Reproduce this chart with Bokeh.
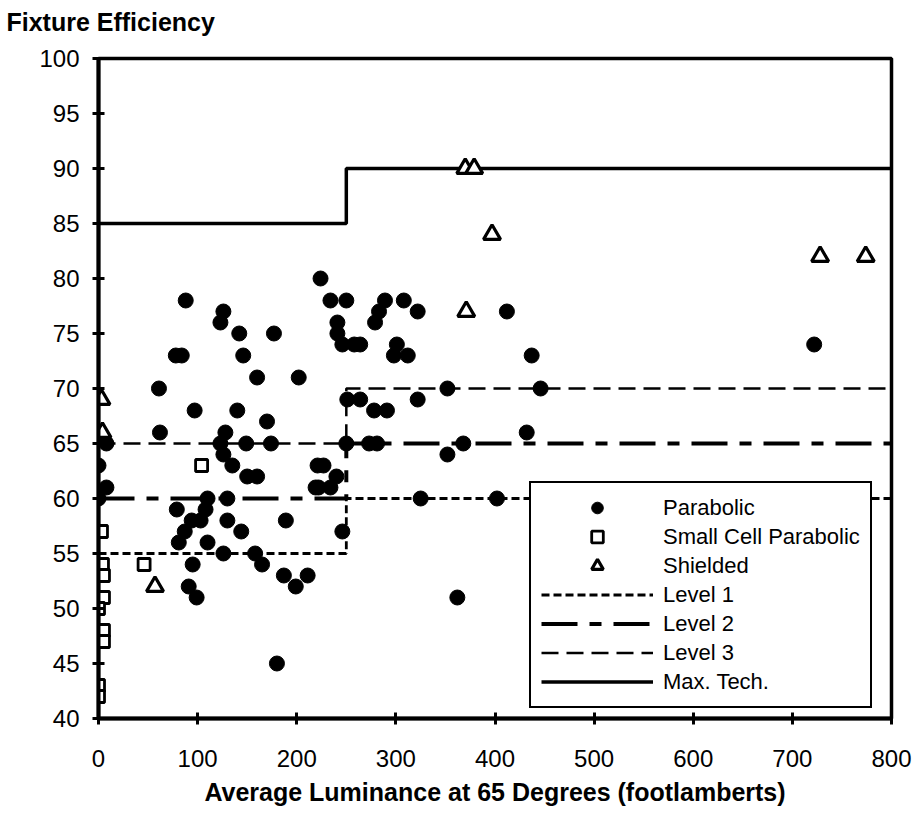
from bokeh.plotting import figure
from bokeh.models import Legend, LegendItem, Title, FixedTicker
from bokeh.embed import file_html
from bokeh.resources import INLINE

# ---- data ----
parabolic_x = [88, 126, 123, 142, 78, 84, 146, 160, 61, 97, 140, 62, 128, 123, 149, 126, 135, 150, 160,
               0, 8, 0, 8, 0, 110, 130, 79, 108, 103, 94, 87, 81, 110, 130, 144, 189, 126, 158, 165,
               95, 91, 99, 187, 199, 211, 180, 219, 224, 234, 250, 289, 308, 322, 283, 279, 241, 241,
               246, 258, 264, 301, 298, 312, 177, 202, 170, 251, 264, 278, 291, 322, 352, 174, 250,
               273, 281, 352, 221, 227, 240, 222, 234, 246, 325, 362, 412, 437, 446, 432, 368, 402, 722]
parabolic_y = [78, 77, 76, 75, 73, 73, 73, 71, 70, 68, 68, 66, 66, 65, 65, 64, 63, 62, 62,
               66, 65, 63, 61, 60, 60, 60, 59, 59, 58, 58, 57, 56, 56, 58, 57, 58, 55, 55, 54,
               54, 52, 51, 53, 52, 53, 45, 61, 80, 78, 78, 78, 78, 77, 77, 76, 76, 75,
               74, 74, 74, 74, 73, 73, 75, 71, 67, 69, 69, 68, 68, 69, 70, 65, 65,
               65, 65, 64, 63, 63, 62, 61, 61, 57, 60, 51, 77, 73, 70, 66, 65, 60, 74]

small_cell_x = [3, 0, 4, 5, 5, 0, 0, 5, 5, 0, 0, 46, 104]
small_cell_y = [57, 54, 54, 53, 51, 50, 48, 48, 47, 43, 42, 54, 63]

shielded_x = [3, 4, 57, 370, 379, 397, 371, 728, 774]
shielded_y = [69, 66, 52, 90, 90, 84, 77, 82, 82]

level_x = [0, 250, 800]
level1_y = [55, 60, 60]
level2_y = [60, 65, 65]
level3_y = [65, 70, 70]
maxtech_y = [85, 90, 90]

x_ticks = [0, 100, 200, 300, 400, 500, 600, 700, 800]
y_ticks = [40, 45, 50, 55, 60, 65, 70, 75, 80, 85, 90, 95, 100]

x_title = "Average Luminance at 65 Degrees (footlamberts)"
y_title = "Fixture Efficiency"

FONT = "Liberation Sans"

p = figure(width=914, height=815, x_range=(0, 800), y_range=(40, 100),
           output_backend="svg", toolbar_location=None,
           min_border_left=98, min_border_right=23, min_border_top=58, min_border_bottom=97)

p.grid.visible = False
p.outline_line_color = "black"
p.outline_line_alpha = 1.0
p.outline_line_width = 3.5
p.background_fill_color = "white"
p.border_fill_color = "white"

for ax in (p.xaxis[0], p.yaxis[0]):
    ax.axis_line_width = 4
    ax.axis_line_color = "black"
    ax.major_tick_in = 6
    ax.major_tick_out = 6
    ax.major_tick_line_width = 3
    ax.minor_tick_line_color = None
    ax.major_label_text_font = FONT
    ax.major_label_text_font_size = "24px"
    ax.major_label_text_color = "black"

p.xaxis.ticker = FixedTicker(ticks=x_ticks)
p.yaxis.ticker = FixedTicker(ticks=y_ticks)
p.xaxis.major_label_standoff = 25
p.yaxis.major_label_standoff = 13

p.xaxis.axis_label = x_title
p.xaxis.axis_label_text_font = FONT
p.xaxis.axis_label_text_font_style = "bold"
p.xaxis.axis_label_text_font_size = "25px"
p.xaxis.axis_label_text_color = "black"
p.xaxis.axis_label_standoff = 8

# spacer (closest to frame), then the real title above it
p.add_layout(Title(text=" ", text_font_size="8px", standoff=6), "above")
p.add_layout(Title(text=y_title, align="left", offset=-92,
                   text_font=FONT, text_font_style="bold", text_font_size="25px",
                   text_color="black", standoff=11), "above")

# level lines
r_l1 = p.step(level_x, level1_y, mode="after", line_color="black", line_width=2.8, line_dash="8 4")
r_l2 = p.step(level_x, level2_y, mode="after", line_color="black", line_width=4, line_dash="36 12 12 12")
r_l3 = p.step(level_x, level3_y, mode="after", line_color="black", line_width=2.5, line_dash="17 8")
r_mt = p.step(level_x, maxtech_y, mode="after", line_color="black", line_width=3.5)

# markers
r_par = p.scatter(parabolic_x, parabolic_y, marker="circle", size=15,
                  fill_color="black", line_color="black")
r_sc = p.scatter(small_cell_x, small_cell_y, marker="square", size=12,
                 fill_color="white", line_color="black", line_width=2.8)
r_sh = p.scatter(shielded_x, shielded_y, marker="triangle", size=17,
                 fill_color="white", line_color="black", line_width=3.2)

legend = Legend(items=[
    LegendItem(label="Parabolic", renderers=[r_par]),
    LegendItem(label="Small Cell Parabolic", renderers=[r_sc]),
    LegendItem(label="Shielded", renderers=[r_sh]),
    LegendItem(label="Level 1", renderers=[r_l1]),
    LegendItem(label="Level 2", renderers=[r_l2]),
    LegendItem(label="Level 3", renderers=[r_l3]),
    LegendItem(label="Max. Tech.", renderers=[r_mt]),
], location=(431, 10))
legend.border_line_color = "black"
legend.border_line_alpha = 1.0
legend.border_line_width = 2.5
legend.background_fill_color = "white"
legend.background_fill_alpha = 1.0
legend.glyph_width = 112
legend.glyph_height = 29
legend.label_height = 29
legend.spacing = 0
legend.padding = 10
legend.margin = 0
legend.label_standoff = 10
legend.label_text_font = FONT
legend.label_text_font_size = "22px"
legend.label_text_color = "black"
p.add_layout(legend)

open("out.html", "w").write(file_html(p, INLINE))
